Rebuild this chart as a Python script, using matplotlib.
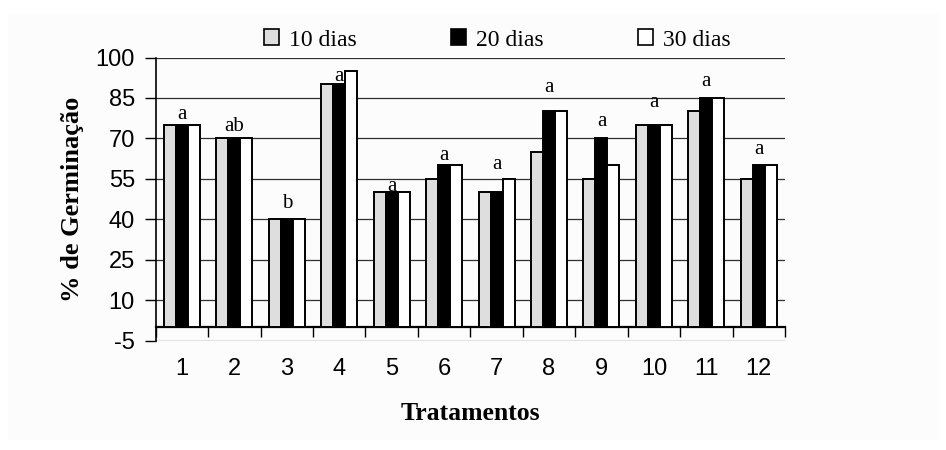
import matplotlib
matplotlib.use("Agg")
import matplotlib.pyplot as plt
from matplotlib.patches import Rectangle, Patch
import numpy as np

categories = ["1", "2", "3", "4", "5", "6", "7", "8", "9", "10", "11", "12"]
dias10 = [75, 70, 40, 90, 50, 55, 50, 65, 55, 75, 80, 55]
dias20 = [75, 70, 40, 90, 50, 60, 50, 80, 70, 75, 85, 60]
dias30 = [75, 70, 40, 95, 50, 60, 55, 80, 60, 75, 85, 60]
letters = ["a", "ab", "b", "a", "a", "a", "a", "a", "a", "a", "a", "a"]
letter_y = [77.2, 72.8, 44.3, 91.4, 50.5, 61.9, 58.8, 87.1, 74.7, 81.5, 89.6, 64.2]
series_names = ["10 dias", "20 dias", "30 dias"]
yticks = [-5, 10, 25, 40, 55, 70, 85, 100]

serif = ["Liberation Serif", "DejaVu Serif"]
sans = ["Liberation Sans", "DejaVu Sans"]

fig = plt.figure(figsize=(9.46, 4.5), dpi=100)
fig.patch.set_facecolor("white")
fig.patches.append(Rectangle((8 / 946, 1 - 440 / 450), (940 - 8) / 946, (440 - 14) / 450,
                             transform=fig.transFigure, facecolor="#fcfcfc",
                             edgecolor="none", zorder=-10))

ax = fig.add_axes([155.7 / 946, 1 - 340.5 / 450, (785 - 155.7) / 946, (340.5 - 57.5) / 450])
ax.set_facecolor("none")

x = np.arange(1, len(categories) + 1)
w = 0.229
colors = ["#dedede", "black", "white"]
for i, (vals, c) in enumerate(zip([dias10, dias20, dias30], colors)):
    ax.bar(x + (i - 1) * w, vals, width=w, color=c, edgecolor="black", linewidth=1.4, zorder=3)

for xi, lab, ly in zip(x, letters, letter_y):
    ax.text(xi, ly, lab, ha="center", va="baseline", fontsize=15,
            family=serif, zorder=4)

ax.set_xlim(0.5, len(categories) + 0.5)
ax.set_ylim(-5, 100)
ax.set_yticks(yticks)
ax.set_yticklabels([str(t) for t in yticks], family=sans, fontsize=17)
ax.yaxis.grid(True, color="#303030", linewidth=0.9)
ax.set_axisbelow(True)

ax.spines["top"].set_visible(False)
ax.spines["right"].set_visible(False)
ax.spines["left"].set_linewidth(1.2)
ax.spines["bottom"].set_position(("data", 0))
ax.spines["bottom"].set_linewidth(1.6)
ax.tick_params(axis="y", direction="out", length=8, width=1.0, pad=7)

ax.set_xticks(x)
ax.set_xticklabels(categories, family=sans, fontsize=17)
ax.set_xticks(np.arange(0.5, len(categories) + 1, 1), minor=True)
ax.tick_params(axis="x", which="major", length=0, pad=22)
ax.tick_params(axis="x", which="minor", direction="out", length=7, width=1.0)

ax.set_ylabel("% de Germinação", family=serif, fontsize=19, fontweight="bold", labelpad=8)
ax.set_xlabel("Tratamentos", family=serif, fontsize=18.5, fontweight="bold", labelpad=16)

handles = [Patch(facecolor=c, edgecolor="black", linewidth=1.2) for c in colors]
fig.legend(handles, series_names, loc="center", bbox_to_anchor=(497 / 946, 1 - 40 / 450),
           ncol=3, frameon=False, prop={"family": serif, "size": 17},
           handlelength=0.65, handleheight=0.65, handletextpad=0.4, columnspacing=4.0)

fig.savefig("out.png", dpi=100)
